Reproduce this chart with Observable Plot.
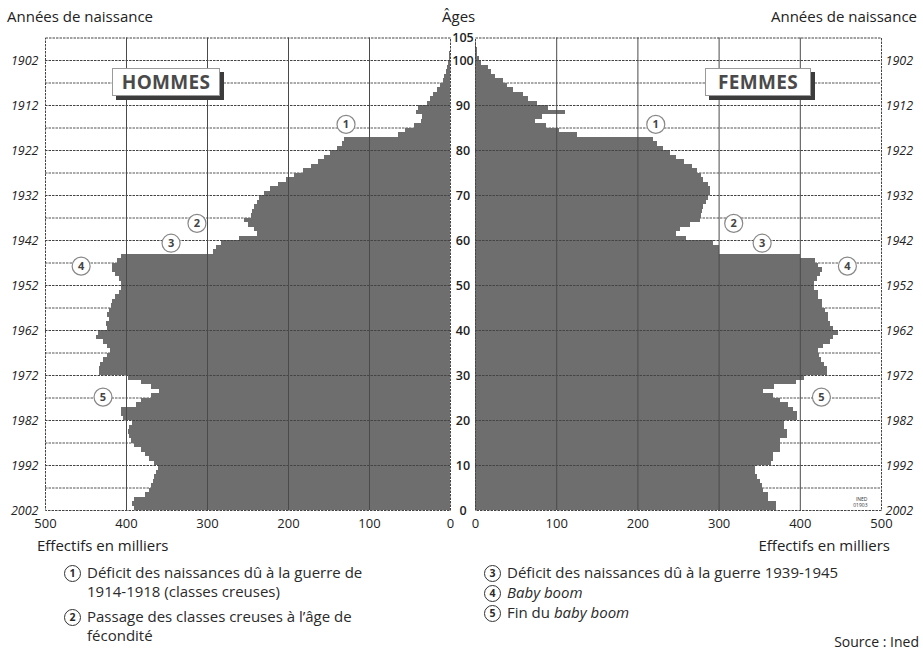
<!DOCTYPE html>
<html lang="fr">
<head>
<meta charset="utf-8">
<script src="https://cdn.jsdelivr.net/npm/d3@7"></script>
<script src="https://cdn.jsdelivr.net/npm/@observablehq/plot@0.6"></script>
<style>
  html, body { margin: 0; padding: 0; background: white; }
  body { width: 923px; height: 652px; overflow: hidden; font-family: "Open Sans", sans-serif; color: #222; }
  #wrap { position: relative; width: 923px; height: 652px; }
  .abs { position: absolute; white-space: nowrap; }
  .top { font-size: 15px; top: 6px; }
  .box { position: absolute; background: white; border: 1px solid #9a9a9a; box-shadow: 4px 4px 0 #3c3c3c;
         font-weight: 700; font-size: 19px; color: #4a4a4a; text-align: center; line-height: 26px; letter-spacing: 0.3px; }
  .leg { position: absolute; font-size: 15px; color: #2a2a2a; }
  .leg .item { display: flex; align-items: flex-start; }
  .leg .num { flex: none; width: 15px; height: 15px; border: 1.2px solid #333; border-radius: 50%;
              font-size: 10.5px; font-weight: 700; line-height: 15px; text-align: center; margin: 2px 6px 0 0; }
  .leg .txt { line-height: 19px; }
  svg { overflow: visible; }
</style>
</head>
<body>
<div id="wrap">
  <div class="abs top" style="left:7px;">Années de naissance</div>
  <div class="abs top" style="left:442px;">Âges</div>
  <div class="abs top" style="right:6px;">Années de naissance</div>
  <div id="left" class="abs" style="left:0;top:0;"></div>
  <div id="right" class="abs" style="left:470px;top:0;"></div>
  <div class="box" style="left:112px;top:68px;width:106px;height:26px;">HOMMES</div>
  <div class="box" style="left:705px;top:68px;width:104px;height:26px;">FEMMES</div>
  <div class="abs" style="left:37px;top:535px;font-size:15px;">Effectifs en milliers</div>
  <div class="abs" style="right:33px;top:535px;font-size:15px;">Effectifs en milliers</div>
  <div class="leg" style="left:64px;top:563px;">
    <div class="item"><span class="num">1</span><span class="txt">Déficit des naissances dû à la guerre de<br>1914-1918 (classes creuses)</span></div>
    <div class="item" style="margin-top:6px;"><span class="num">2</span><span class="txt">Passage des classes creuses à l’âge de<br>fécondité</span></div>
  </div>
  <div class="leg" style="left:484px;top:563px;">
    <div class="item"><span class="num">3</span><span class="txt">Déficit des naissances dû à la guerre 1939-1945</span></div>
    <div class="item" style="margin-top:1px;"><span class="num">4</span><span class="txt"><i>Baby boom</i></span></div>
    <div class="item" style="margin-top:1px;"><span class="num">5</span><span class="txt">Fin du <i>baby boom</i></span></div>
  </div>
  <div class="abs" style="right:4px;top:632px;font-size:14px;">Source : Ined</div>
</div>
<script>
// Population of France on 1 January 2002, thousands, by age (0..104)
const ages = d3.range(0, 105);
const hommes = [
  390, 392, 390, 377, 371, 369, 367, 366, 363, 361,
  365, 371, 376, 382, 390, 394, 396, 397, 396, 392,
  404, 406, 406, 388, 382, 369, 359, 369, 382, 398,
  433, 433, 432, 428, 424, 420, 423, 429, 437, 435,
  423, 425, 421, 423, 421, 419, 417, 413, 409, 406,
  406, 409, 413, 417, 417, 411, 406, 293, 289, 283,
  260, 238, 242, 250, 254, 246, 244, 242, 238, 236,
  230, 222, 212, 202, 192, 182, 172, 163, 155, 148,
  140, 133, 131, 64, 55, 45, 36, 35, 42, 40,
  29, 25, 21, 16, 12, 9, 7, 5, 3.5, 2.5,
  1.5, 1, 0.6, 0.3, 0.2
];
const femmes = [
  371, 371, 361, 361, 355, 353, 351, 347, 345, 345,
  365, 367, 367, 375, 375, 375, 384, 384, 380, 380,
  396, 396, 392, 386, 375, 367, 355, 368, 395, 405,
  433, 434, 430, 426, 424, 423, 429, 437, 441, 447,
  441, 437, 435, 435, 431, 427, 427, 423, 423, 417,
  417, 421, 425, 427, 423, 419, 400, 301, 300, 293,
  260, 248, 252, 265, 277, 278, 279, 281, 284, 287,
  289, 289, 287, 281, 278, 273, 267, 258, 248, 240,
  232, 224, 219, 125, 103, 88, 74, 82, 111, 90,
  76, 65, 59, 47, 40, 35, 25, 20, 16, 8,
  5, 3, 2, 1, 0.5
];
const xTicks = [0, 100, 200, 300, 400, 500];
const xGrid = [100, 200, 300, 400];
const ageTicks = [0, 10, 20, 30, 40, 50, 60, 70, 80, 90, 100, 105];
const yearTicks = [1902, 1912, 1922, 1932, 1942, 1952, 1962, 1972, 1982, 1992, 2002];
const refYear = 2002;
const majorGrid = [10, 20, 30, 40, 50, 60, 70, 80, 90, 100];
const minorGrid = [5, 15, 25, 35, 45, 55, 65, 75, 85, 95];
const annotNum = ["1", "2", "3", "4", "5"];
const annotHommesX = [129, 313, 345, 456, 429];
const annotFemmesX = [222, 318, 353, 458, 426];
const annotAge = [85.8, 63.8, 59.4, 54.3, 25.2];

const BAR = "#6e6e6e";

function pyramid(values, annX, side) {
  const rows = ages.map((a, i) => ({age: a, v: values[i]}));
  const ann = annotNum.map((n, i) => ({n, x: annX[i], y: annotAge[i]}));
  const years = yearTicks.map(yr => ({year: yr, age: refYear - yr}));
  const isLeft = side === "left";
  const marks = [
    Plot.ruleY(minorGrid, {stroke: "#555", strokeWidth: 1, strokeDasharray: "2.5,1"}),
    Plot.rectX(rows, {x: "v", y1: "age", y2: d => d.age + 1, fill: BAR, shapeRendering: "crispEdges"}),
    Plot.ruleY(majorGrid, {stroke: "#444", strokeWidth: 1, strokeDasharray: "2.5,1"}),
    Plot.ruleX(xGrid, {stroke: "#4a4a4a", strokeWidth: 1}),
    Plot.frame({stroke: "#444", strokeWidth: 1, strokeDasharray: "2.5,1"}),
    Plot.axisX({ticks: xTicks, tickSize: 0, tickPadding: 8, fontSize: 13, tickFormat: d => String(d)}),
    Plot.text(years, {y: "age", text: d => String(d.year), frameAnchor: isLeft ? "left" : "right",
      dx: isLeft ? -7 : 4, textAnchor: isLeft ? "end" : "start", fontStyle: "italic", fontSize: 12.5}),
    Plot.dot(ann, {x: "x", y: "y", r: 9, fill: "white", stroke: "#888", strokeWidth: 1.2}),
    Plot.text(ann, {x: "x", y: "y", text: "n", fontSize: 11, fontWeight: "bold", fill: "#444"})
  ];
  if (isLeft) {
    marks.push(Plot.text(ageTicks, {y: d => d, text: d => String(d), frameAnchor: "right", dx: 12.5,
      textAnchor: "middle", fontSize: 12.5, fontWeight: 600}));
  } else {
    marks.push(Plot.text(["INED\n01903"], {frameAnchor: "bottom-right", dx: -14, dy: -4,
      fontSize: 5, lineHeight: 1.1, fill: "#333"}));
  }
  return Plot.plot({
    width: isLeft ? 470 : 453,
    height: 534,
    marginLeft: isLeft ? 45 : 5,
    marginRight: isLeft ? 20 : 42,
    marginTop: 37.5,
    marginBottom: 24,
    x: {domain: [0, 500], reverse: isLeft},
    y: {domain: [0, 105], axis: null},
    style: {fontFamily: "Open Sans, sans-serif", fontSize: "13px", color: "#222", background: "transparent", overflow: "visible"},
    marks
  });
}

document.getElementById("left").append(pyramid(hommes, annotHommesX, "left"));
document.getElementById("right").append(pyramid(femmes, annotFemmesX, "right"));
</script>
</body>
</html>
